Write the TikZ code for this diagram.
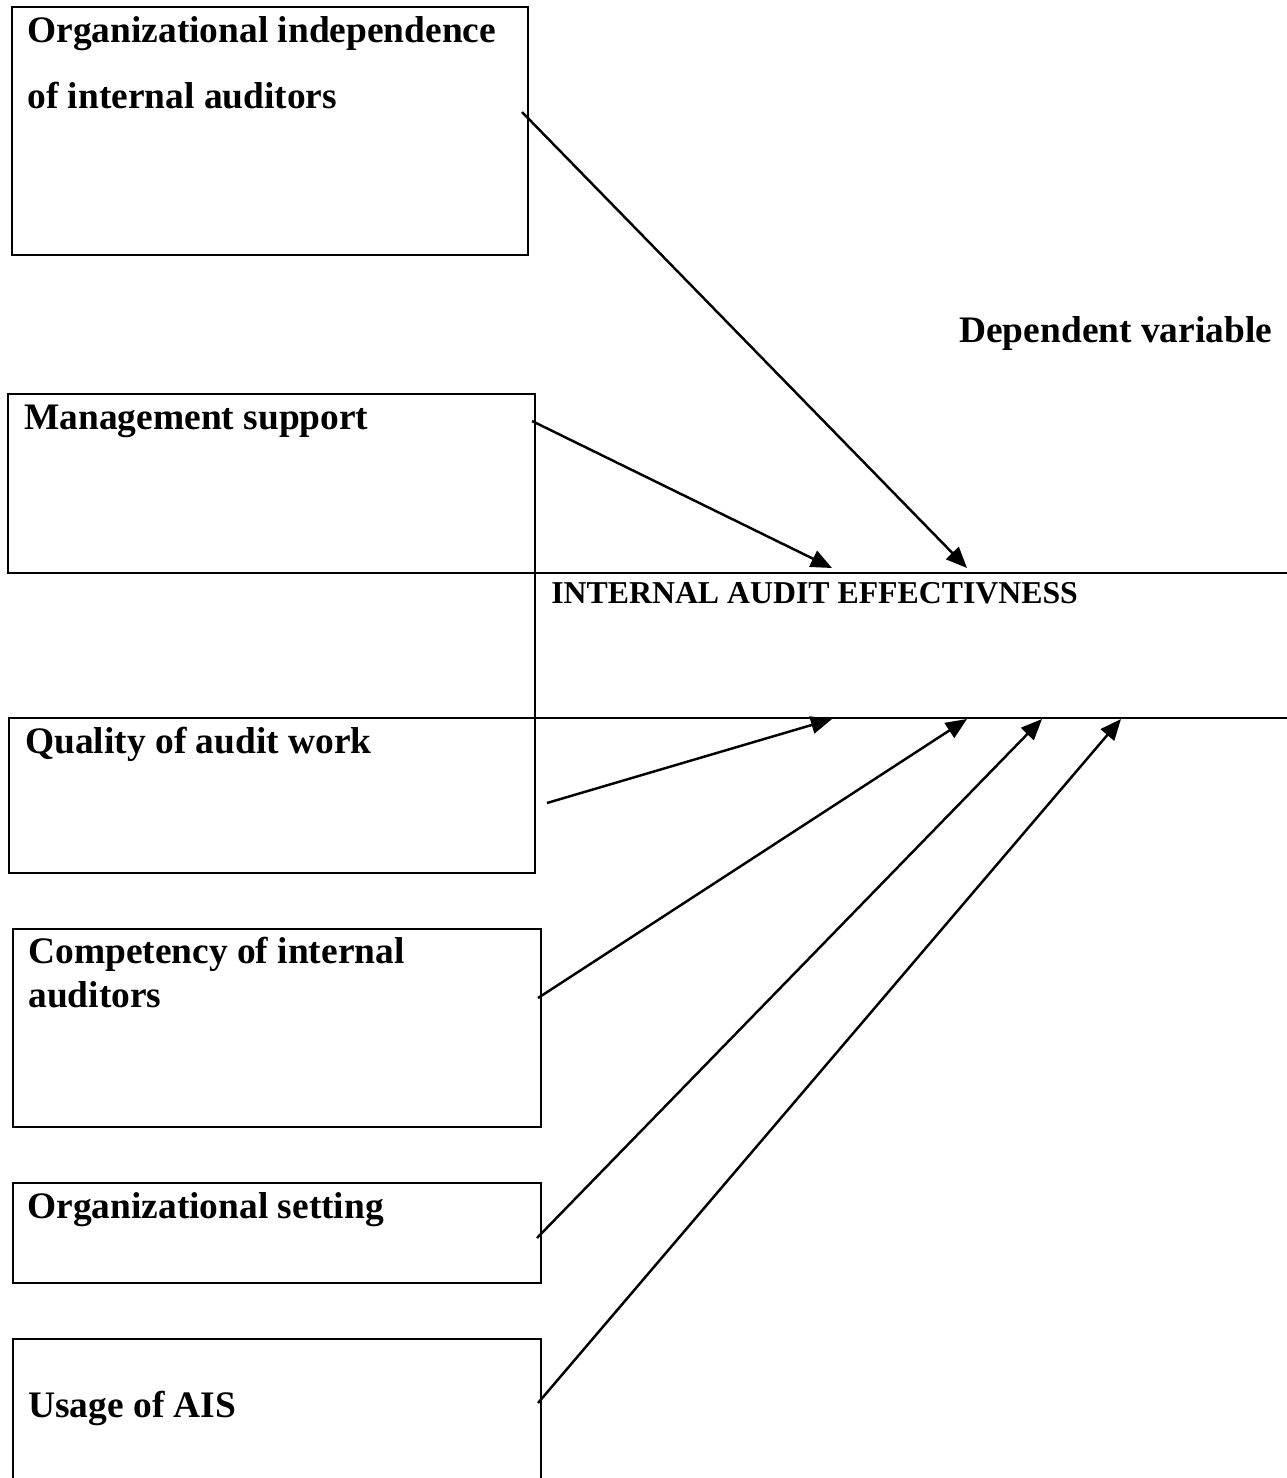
\documentclass[tikz,border=0pt]{standalone}
\usepackage{fontspec}
\setmainfont{Liberation Serif}
\usetikzlibrary{arrows.meta, positioning, calc}

\begin{document}
\begin{tikzpicture}[
    x=0.02cm, y=-0.02cm,
    >={Triangle[length=12pt, width=10pt]},
    box/.style={draw, line width=1.5pt, inner sep=0pt, outer sep=0pt, anchor=north west},
    lbl/.style={anchor=base west, inner sep=0pt, align=left, font=\bfseries\fontsize{21.3}{37.4}\selectfont},
    link/.style={->, line width=1.4pt},
  ]
  \useasboundingbox (0,0) rectangle (1287,1478);
  % independent variables
  \node[box, minimum width=10.32cm, minimum height=4.96cm] (indep) at (12,7) {};
  \node[box, minimum width=10.54cm, minimum height=3.58cm] (mgmt) at (8,394) {};
  \node[box, minimum width=10.52cm, minimum height=3.10cm] (quality) at (9,718) {};
  \node[box, minimum width=10.56cm, minimum height=3.96cm] (comp) at (13,929) {};
  \node[box, minimum width=10.56cm, minimum height=2.00cm] (setting) at (13,1183) {};
  \node[box, minimum width=10.56cm, minimum height=3.22cm] (ais) at (13,1339) {};
  \node[lbl] (indeptxt) at (27,108) {Organizational independence\\of internal auditors};
  \node[lbl] (mgmttxt) at (24,429) {Management support};
  \node[lbl] (qualitytxt) at (25,753) {Quality of audit work};
  \node[lbl, font=\bfseries\fontsize{21.3}{25}\selectfont] (comptxt) at (28,1007) {Competency of internal\\auditors};
  \node[lbl] (settingtxt) at (27,1218) {Organizational setting};
  \node[lbl] (aistxt) at (28,1417) {Usage of AIS};
  % dependent variable
  \node[inner sep=0pt, outer sep=0pt, anchor=north west, minimum width=15.4cm, minimum height=2.9cm] (dep) at (535,573) {};
  \draw[line width=1.5pt] (dep.north east) -- (dep.north west) -- (dep.south west) -- (dep.south east);
  \node[lbl, font=\bfseries\fontsize{18.1}{22}\selectfont] (deptxt) at (551,603) {INTERNAL AUDIT EFFECTIVNESS};
  \node[lbl] (heading) at (959,342) {Dependent variable};
  % arrow ends
  \coordinate (s1) at (522,112);
  \coordinate (s2) at (532,421);
  \coordinate (s3) at (547,803);
  \coordinate (s4) at (538,998);
  \coordinate (s5) at (537,1238);
  \coordinate (s6) at (538,1403);
  \coordinate (t1) at (967,568);
  \coordinate (t2) at (832,568);
  \coordinate (t3) at (832,719);
  \coordinate (t4) at (967,719);
  \coordinate (t5) at (1042,719);
  \coordinate (t6) at (1121,719);
  \foreach \i in {1,...,6}
    \draw[link] (s\i) -- (t\i);
\end{tikzpicture}
\end{document}
